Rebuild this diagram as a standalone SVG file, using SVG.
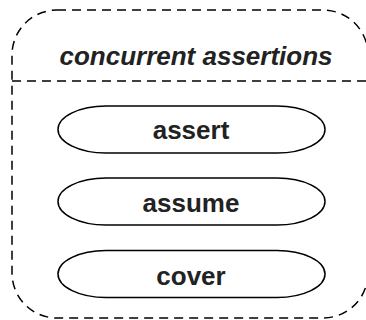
<svg xmlns="http://www.w3.org/2000/svg" width="366" height="320" viewBox="0 0 366 320">
<style>
.frame{fill:none;stroke:#000;stroke-width:1.5;stroke-dasharray:9 6}
.pill{fill:#fff;stroke:#000;stroke-width:1.5}
.lbl{font-family:"Liberation Sans",Arial,sans-serif;font-weight:bold;font-size:26px;fill:#222;text-anchor:middle}
.title{font-style:italic}
</style>
<rect width="366" height="320" fill="#fff"/>
<g id="container">
<rect class="frame" x="12" y="10" width="356" height="308" rx="45" ry="45"/>
<line class="frame" x1="12" y1="81" x2="368" y2="81"/>
<text class="lbl title" x="196" y="65">concurrent assertions</text>
</g>
<g id="assert">
<rect class="pill" x="58" y="106" width="267" height="47" rx="48" ry="23.5"/>
<text class="lbl" x="191" y="139">assert</text>
</g>
<g id="assume">
<rect class="pill" x="58" y="178" width="267" height="47" rx="48" ry="23.5"/>
<text class="lbl" x="191" y="211.5">assume</text>
</g>
<g id="cover">
<rect class="pill" x="58" y="250.5" width="267" height="47" rx="48" ry="23.5"/>
<text class="lbl" x="191" y="284.5">cover</text>
</g>
<g id="connectors"/>
</svg>
